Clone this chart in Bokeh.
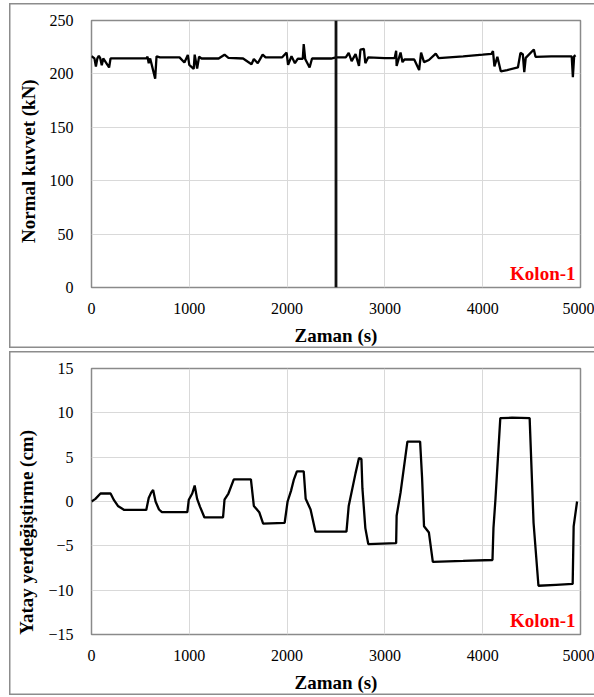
from bokeh.plotting import figure
from bokeh.models import Range1d, FixedTicker, Label, Span
from bokeh.layouts import column
from bokeh.embed import file_html
from bokeh.resources import INLINE

# ---- data ----
t_force = [0, 30, 45, 60, 75, 90, 105, 120, 180, 195, 400, 560, 573, 585, 600, 651, 665, 700, 900, 950,
           985, 1000, 1045, 1055, 1080, 1100, 1125, 1300, 1360, 1400, 1550, 1636, 1660, 1700, 1750, 1780,
           1950, 1995, 2010, 2045, 2080, 2110, 2160, 2170, 2185, 2230, 2255, 2450, 2500, 2600, 2630, 2660,
           2700, 2735, 2750, 2785, 2800, 2830, 3000, 3100, 3115, 3120, 3160, 3180, 3200, 3300, 3350, 3370,
           3400, 3450, 3520, 3550, 3800, 4000, 4090, 4105, 4120, 4150, 4185, 4250, 4360, 4386, 4410, 4425,
           4440, 4523, 4540, 4700, 4910, 4922, 4935, 4950]
v_force = [216.7, 214.5, 207, 214.5, 217, 214.5, 208, 214.5, 206, 214.5, 214.5, 214.5, 216, 210, 214.5,
           195.6, 216.5, 215.5, 215.5, 210.6, 217.7, 208.5, 204.6, 218, 205, 216, 214.4, 214.4, 218, 215,
           214.4, 209, 214, 210, 218, 215.5, 215.5, 220, 208.5, 216.5, 210, 214.4, 214, 228, 214, 206,
           214.4, 214.4, 215.5, 215.5, 219.7, 212, 218.5, 207.4, 222.8, 223.5, 210, 215.5, 214.8, 214.8,
           221.6, 207.4, 220, 211, 213.5, 213.5, 203.6, 220, 211, 213, 219, 214.8, 216.5, 218, 218.8,
           221.3, 207, 216, 202.4, 203.6, 206, 219.7, 218.5, 201.6, 215, 222.8, 216, 216.5, 216.5, 197,
           216.5, 217.5]

t_disp = [0, 40, 92, 195, 230, 270, 335, 560, 585, 610, 630, 655, 690, 720, 980, 995, 1030, 1055,
          1080, 1110, 1155, 1345, 1360, 1400, 1455, 1630, 1660, 1715, 1755, 1975, 2005, 2040, 2070,
          2100, 2170, 2190, 2240, 2290, 2607, 2630, 2700, 2735, 2760, 2770, 2800, 2830, 3115, 3120,
          3160, 3230, 3360, 3380, 3400, 3450, 3490, 3800, 4100, 4110, 4130, 4180, 4300, 4480, 4520,
          4570, 4750, 4920, 4930, 4965]
v_disp = [0, 0.3, 0.9, 0.9, 0.15, -0.5, -0.95, -0.95, 0.4, 1.0, 1.3, 0.0, -0.9, -1.2, -1.2, 0.2, 0.9, 1.8,
          0.3, -0.6, -1.8, -1.8, 0.2, 0.9, 2.5, 2.5, -0.5, -1.2, -2.5, -2.4, 0.0, 1.2, 2.5,
          3.4, 3.4, 0.3, -0.9, -3.4, -3.4, -0.5, 3.2, 4.9, 4.8, 1.5, -3.0, -4.8, -4.7, -1.6,
          1.0, 6.75, 6.75, 2.7, -2.8, -3.5, -6.8, -6.7, -6.6, -3.0, 0.2, 9.4, 9.45, 9.4, -2.4,
          -9.5, -9.4, -9.3, -2.8, 0.0]

x_ticks = [0, 1000, 2000, 3000, 4000, 5000]
force_ticks = [0, 50, 100, 150, 200, 250]
disp_ticks = [-15, -10, -5, 0, 5, 10, 15]
marker_time = 2500

SERIF = "'Liberation Serif'"
BORDER = "#8c8c8c"
PANEL_STYLE = {"box-shadow": f"inset 1.5px 0 0 {BORDER}, inset 0 1.5px 0 {BORDER}, inset 0 -1.5px 0 {BORDER}"}
NB = "\u00a0"


def style(p, ylabel, ymin, title_standoff):
    p.border_fill_color = None
    p.background_fill_color = "white"
    p.xgrid.grid_line_color = "#d9d9d9"
    p.ygrid.grid_line_color = "#d9d9d9"
    p.outline_line_color = "#8a8a8a"
    p.outline_line_width = 1.5
    for ax in (p.xaxis, p.yaxis):
        ax.axis_line_color = None
        ax.major_tick_line_color = None
        ax.minor_tick_line_color = None
        ax.major_label_text_font = SERIF
        ax.major_label_text_font_size = "16px"
        ax.major_label_text_color = "#000000"
        ax.axis_label_text_font = SERIF
        ax.axis_label_text_font_size = "19px"
        ax.axis_label_text_font_style = "bold"
        ax.axis_label_text_color = "#000000"
    p.xaxis.ticker = FixedTicker(ticks=x_ticks)
    p.xaxis.axis_label = "Zaman (s)"
    p.xaxis.major_label_standoff = 9
    p.xaxis.axis_label_standoff = 8
    p.yaxis.axis_label = ylabel
    p.yaxis.major_label_standoff = 12
    p.yaxis.axis_label_standoff = title_standoff
    p.add_layout(Label(x=4980, y=ymin, text="Kolon-1", text_font=SERIF, text_font_size="19px",
                       text_font_style="bold", text_color="#ff0000", text_align="right",
                       x_offset=-3, y_offset=4))


W = 585
p1 = figure(width=W, height=345, output_backend="svg", toolbar_location=None,
            x_range=Range1d(0, 5000), y_range=Range1d(0, 250),
            min_border_left=82, min_border_right=14, min_border_top=17, min_border_bottom=60,
            margin=(3, 0, 0, 9), styles=PANEL_STYLE)
style(p1, "Normal kuvvet  (kN)" + NB * 2, 0, 8)
p1.yaxis.ticker = FixedTicker(ticks=force_ticks)
p1.line(t_force, v_force, line_color="black", line_width=2.3)
p1.add_layout(Span(location=marker_time, dimension="height", line_color="#111111", line_width=2.8))

p2 = figure(width=W, height=344, output_backend="svg", toolbar_location=None,
            x_range=Range1d(0, 5000), y_range=Range1d(-15, 15),
            min_border_left=82, min_border_right=14, min_border_top=17, min_border_bottom=58,
            margin=(3, 0, 0, 9), styles=PANEL_STYLE)
style(p2, "Yatay yerdeğiştirme  (cm)" + NB * 12, -15, 8)
p2.yaxis.ticker = FixedTicker(ticks=disp_ticks)
p2.line(t_disp, v_disp, line_color="black", line_width=2.3)

layout = column(p1, p2, spacing=0)
open("out.html", "w").write(file_html(layout, INLINE))
